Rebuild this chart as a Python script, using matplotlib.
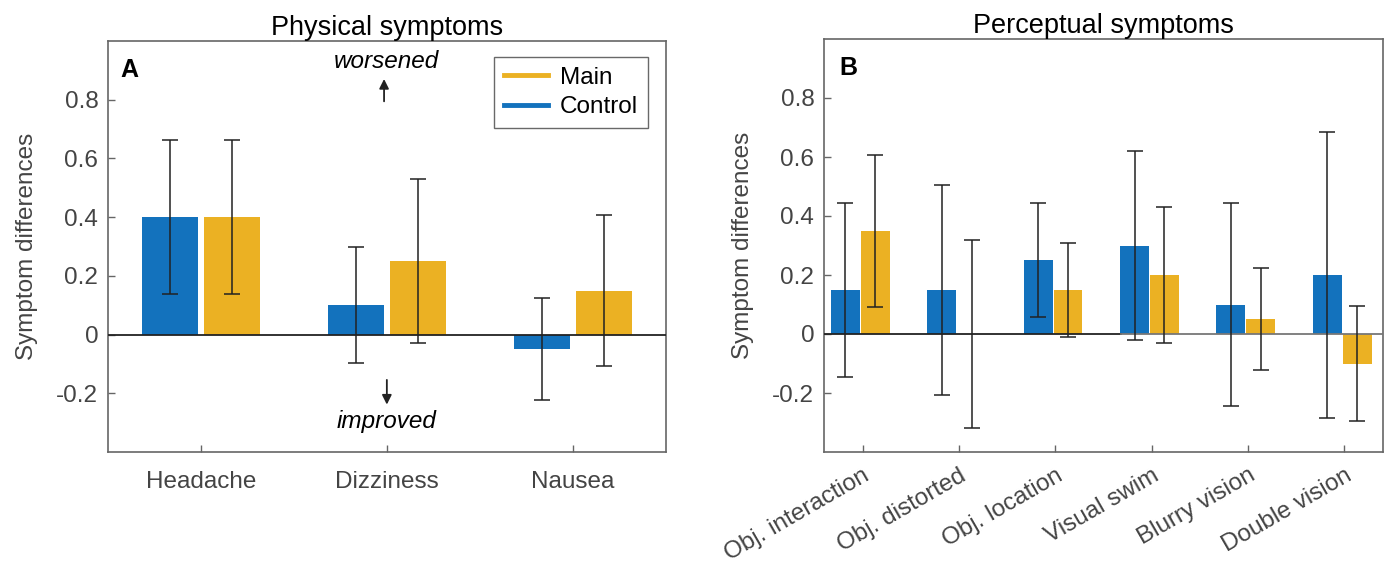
import matplotlib
matplotlib.use("Agg")
import matplotlib.pyplot as plt
import numpy as np

plt.rcParams['font.family'] = ['Liberation Sans', 'DejaVu Sans']

# ---------------- data ----------------
phys_labels = ["Headache", "Dizziness", "Nausea"]
phys_control = [0.40, 0.10, -0.05]
phys_control_err = [0.263, 0.197, 0.173]
phys_main = [0.40, 0.25, 0.15]
phys_main_err = [0.263, 0.28, 0.258]

perc_labels = ["Obj. interaction", "Obj. distorted", "Obj. location",
               "Visual swim", "Blurry vision", "Double vision"]
perc_control = [0.15, 0.15, 0.25, 0.30, 0.10, 0.20]
perc_control_err = [0.295, 0.356, 0.194, 0.32, 0.345, 0.484]
perc_main = [0.35, 0.0, 0.15, 0.20, 0.05, -0.10]
perc_main_err = [0.257, 0.318, 0.16, 0.229, 0.173, 0.195]

yticks = [-0.2, 0, 0.2, 0.4, 0.6, 0.8]
ytick_labels = ["-0.2", "0", "0.2", "0.4", "0.6", "0.8"]

BLUE = "#1372BD"
YELLOW = "#EBB123"
AXC = "#444444"
FS = 17.5
TFS = 19.5

fig = plt.figure(figsize=(13.87, 5.63), dpi=100)
axA = fig.add_axes([108/1387, 111/563, 557.7/1387, 411/563])
axB = fig.add_axes([824/1387, 111/563, 559/1387, 413/563])


def style(ax):
    for s in ax.spines.values():
        s.set_color("#666666")
        s.set_linewidth(1.2)
    ax.tick_params(direction="in", length=5, width=1, colors="#666666",
                   labelcolor=AXC, labelsize=FS, top=False, right=False)
    ax.tick_params(axis="y", pad=7)
    ax.set_ylim(-0.4, 1.0)
    ax.set_yticks(yticks)
    ax.set_yticklabels(ytick_labels)
    ax.set_ylabel("Symptom differences", fontsize=FS, color=AXC, labelpad=13)


# ---------------- panel A ----------------
x = np.arange(1, len(phys_labels) + 1)
w = 0.3
errkw = dict(fmt="none", ecolor="#222222", elinewidth=1.1, capsize=6, capthick=1.1, zorder=4)
axA.bar(x - 0.167, phys_control, w, color=BLUE, zorder=2)
axA.bar(x + 0.167, phys_main, w, color=YELLOW, zorder=2)
axA.errorbar(x - 0.167, phys_control, yerr=phys_control_err, **errkw)
axA.errorbar(x + 0.167, phys_main, yerr=phys_main_err, **errkw)
axA.axhline(0, color="#222222", lw=1.3, zorder=3)
axA.set_xlim(0.5, 3.5)
axA.set_xticks(x)
axA.set_xticklabels(phys_labels)
style(axA)
axA.tick_params(axis="x", pad=14)
axA.set_title("Physical symptoms", fontsize=TFS, color="black", pad=4)
axA.text(0.022, 0.958, "A", transform=axA.transAxes, fontsize=18, fontweight="bold",
         va="top", ha="left")
axA.text(2.0, 0.93, "worsened", style="italic", fontsize=FS, ha="center", va="center")
axA.annotate("", xy=(1.985, 0.88), xytext=(1.985, 0.785),
             arrowprops=dict(arrowstyle="-|>", color="#222222", lw=1.3, mutation_scale=14))
axA.text(2.0, -0.297, "improved", style="italic", fontsize=FS, ha="center", va="center")
axA.annotate("", xy=(2.0, -0.248), xytext=(2.0, -0.145),
             arrowprops=dict(arrowstyle="-|>", color="#222222", lw=1.3, mutation_scale=14))

h1, = axA.plot([], [], color=YELLOW, lw=3.5, label="Main")
h2, = axA.plot([], [], color=BLUE, lw=3.5, label="Control")
leg = axA.legend(handles=[h1, h2], loc="upper right", bbox_to_anchor=(0.968, 0.961),
                 fontsize=FS, frameon=True, fancybox=False, handlelength=1.8,
                 borderpad=0.4, labelspacing=0.3, handletextpad=0.5, borderaxespad=0)
leg.get_frame().set_edgecolor("#444444")
leg.get_frame().set_linewidth(1.0)

# ---------------- panel B ----------------
xb = np.arange(1, len(perc_labels) + 1)
axB.bar(xb - 0.178, perc_control, w, color=BLUE, zorder=2)
axB.bar(xb + 0.132, perc_main, w, color=YELLOW, zorder=2)
axB.errorbar(xb - 0.178, perc_control, yerr=perc_control_err, **errkw)
axB.errorbar(xb + 0.132, perc_main, yerr=perc_main_err, **errkw)
axB.plot([0.6, 3.68], [0, 0], color="#222222", lw=1.3, zorder=3)
axB.plot([3.68, 6.4], [0, 0], color="#777777", lw=1.3, zorder=3)
axB.set_xlim(0.6, 6.4)
axB.set_xticks(xb)
axB.set_xticklabels(perc_labels, rotation=30, ha="right", rotation_mode="anchor")
style(axB)
axB.tick_params(axis="x", pad=9)
axB.set_title("Perceptual symptoms", fontsize=TFS, color="black", pad=4)
axB.text(0.028, 0.958, "B", transform=axB.transAxes, fontsize=18, fontweight="bold",
         va="top", ha="left")

fig.savefig("out.png", dpi=100)
